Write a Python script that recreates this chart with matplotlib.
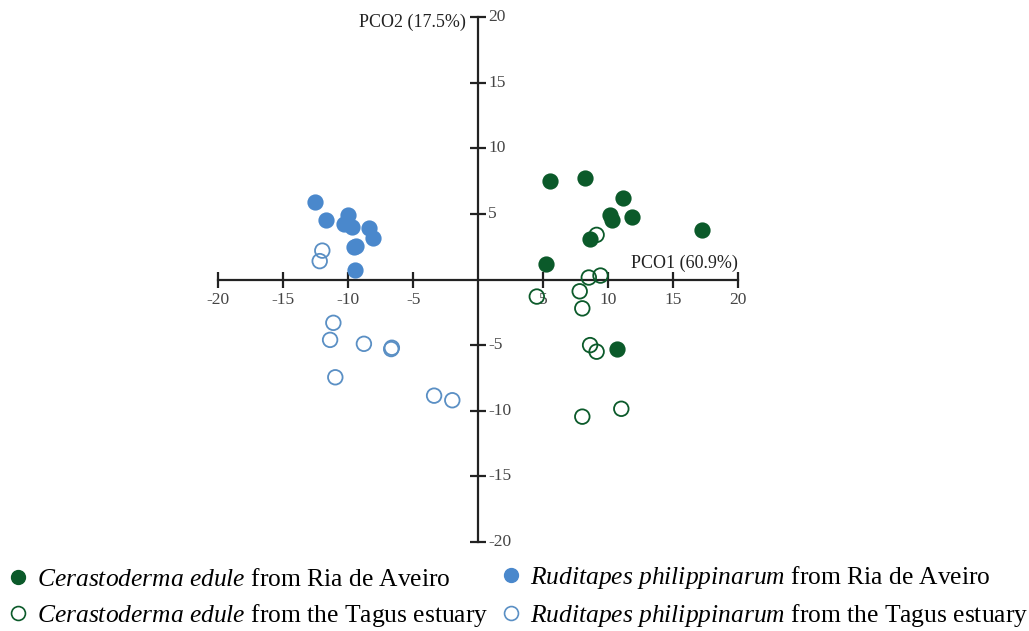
import matplotlib
matplotlib.use("Agg")
import matplotlib.pyplot as plt
from matplotlib.lines import Line2D

plt.rcParams['font.family'] = ['Liberation Serif', 'DejaVu Serif']
plt.rcParams['mathtext.fontset'] = 'custom'
plt.rcParams['mathtext.it'] = 'Liberation Serif:italic'
plt.rcParams['mathtext.rm'] = 'Liberation Serif'

# Data (PCO1, PCO2)
ce_aveiro_x = [5.5, 8.2, 11.1, 10.1, 10.3, 11.8, 17.2, 8.6, 5.2, 10.7]
ce_aveiro_y = [7.5, 7.7, 6.2, 4.9, 4.5, 4.8, 3.8, 3.1, 1.2, -5.3]
ce_tagus_x = [9.1, 8.5, 9.4, 4.5, 7.8, 8.0, 8.6, 9.1, 11.0, 8.0]
ce_tagus_y = [3.4, 0.15, 0.3, -1.3, -0.9, -2.2, -5.0, -5.5, -9.85, -10.45]
rp_aveiro_x = [-12.6, -11.7, -10.05, -10.3, -9.7, -8.4, -8.1, -9.4, -9.6, -9.5]
rp_aveiro_y = [5.9, 4.5, 4.9, 4.2, 4.0, 3.9, 3.2, 2.55, 2.5, 0.7]
rp_tagus_x = [-12.0, -12.2, -11.15, -11.4, -8.8, -6.7, -6.65, -11.0, -3.4, -2.0]
rp_tagus_y = [2.2, 1.4, -3.3, -4.6, -4.9, -5.3, -5.2, -7.45, -8.85, -9.2]

ticks = [-20, -15, -10, -5, 5, 10, 15, 20]
tick_labels = ['-20', '-15', '-10', '-5', '5', '10', '15', '20']
xlabel = 'PCO1 (60.9%)'
ylabel = 'PCO2 (17.5%)'
labels_ce = [r'$\mathit{Cerastoderma\ edule}$ from Ria de Aveiro',
             r'$\mathit{Cerastoderma\ edule}$ from the Tagus estuary']
labels_rp = [r'$\mathit{Ruditapes\ philippinarum}$ from Ria de Aveiro',
             r'$\mathit{Ruditapes\ philippinarum}$ from the Tagus estuary']

green = '#0b5a2a'
blue = '#4a88cc'
blue_open = '#5a8fc4'

fig = plt.figure(figsize=(10.29, 6.31), dpi=100)
ax = fig.add_axes([218.3 / 1029, 89 / 631, 520 / 1029, 525 / 631])

s = 110
ax.scatter(ce_aveiro_x, ce_aveiro_y, s=s, facecolor=green, edgecolor=green, linewidths=1.2, zorder=3)
ax.scatter(rp_aveiro_x, rp_aveiro_y, s=s, facecolor=blue, edgecolor=blue, linewidths=1.2, zorder=3)
ax.scatter(ce_tagus_x, ce_tagus_y, s=s, facecolor='none', edgecolor=green, linewidths=1.3, zorder=3)
ax.scatter(rp_tagus_x, rp_tagus_y, s=s, facecolor='none', edgecolor=blue_open, linewidths=1.3, zorder=3)

ax.set_xlim(-20, 20)
ax.set_ylim(-20, 20)
for sp in ['top', 'right']:
    ax.spines[sp].set_visible(False)
ax.spines['left'].set_position(('data', 0))
ax.spines['bottom'].set_position(('data', 0))
for sp in ['left', 'bottom']:
    ax.spines[sp].set_linewidth(1.6)
    ax.spines[sp].set_color('#222222')

ax.set_xticks(ticks)
ax.set_xticklabels(tick_labels)
ax.set_yticks(ticks)
ax.set_yticklabels([])
ax.tick_params(axis='both', direction='inout', length=12, width=1.6, color='#222222',
               labelsize=12.5, labelcolor='#444444')
ax.tick_params(axis='x', pad=3)
for t, lab in zip(ticks, tick_labels):
    ax.annotate(lab, xy=(0, t), xytext=(7, 0), textcoords='offset points',
                ha='left', va='center', fontsize=12.5, color='#444444')

ax.text(-0.95, 19.6, ylabel, fontsize=13, color='#222222', ha='right', va='center')
ax.text(20, 0.6, xlabel, fontsize=13, color='#222222', ha='right', va='bottom')

h_ce = [
    Line2D([], [], marker='o', linestyle='none', markersize=10, markerfacecolor=green, markeredgecolor=green),
    Line2D([], [], marker='o', linestyle='none', markersize=10, markerfacecolor='none', markeredgecolor=green, markeredgewidth=1.2),
]
h_rp = [
    Line2D([], [], marker='o', linestyle='none', markersize=10, markerfacecolor=blue, markeredgecolor=blue),
    Line2D([], [], marker='o', linestyle='none', markersize=10, markerfacecolor='none', markeredgecolor=blue_open, markeredgewidth=1.2),
]
common = dict(loc='lower left', frameon=False, fontsize=18.4, handlelength=0.6,
              handletextpad=0.45, labelspacing=0.42, borderaxespad=0.0, borderpad=0.0)
leg1 = fig.legend(h_ce, labels_ce, bbox_to_anchor=(10 / 1029, 2 / 631), **common)
leg2 = fig.legend(h_rp, labels_rp, bbox_to_anchor=(503 / 1029, 2 / 631), **common)

fig.savefig('out.png', dpi=100, facecolor='white')
